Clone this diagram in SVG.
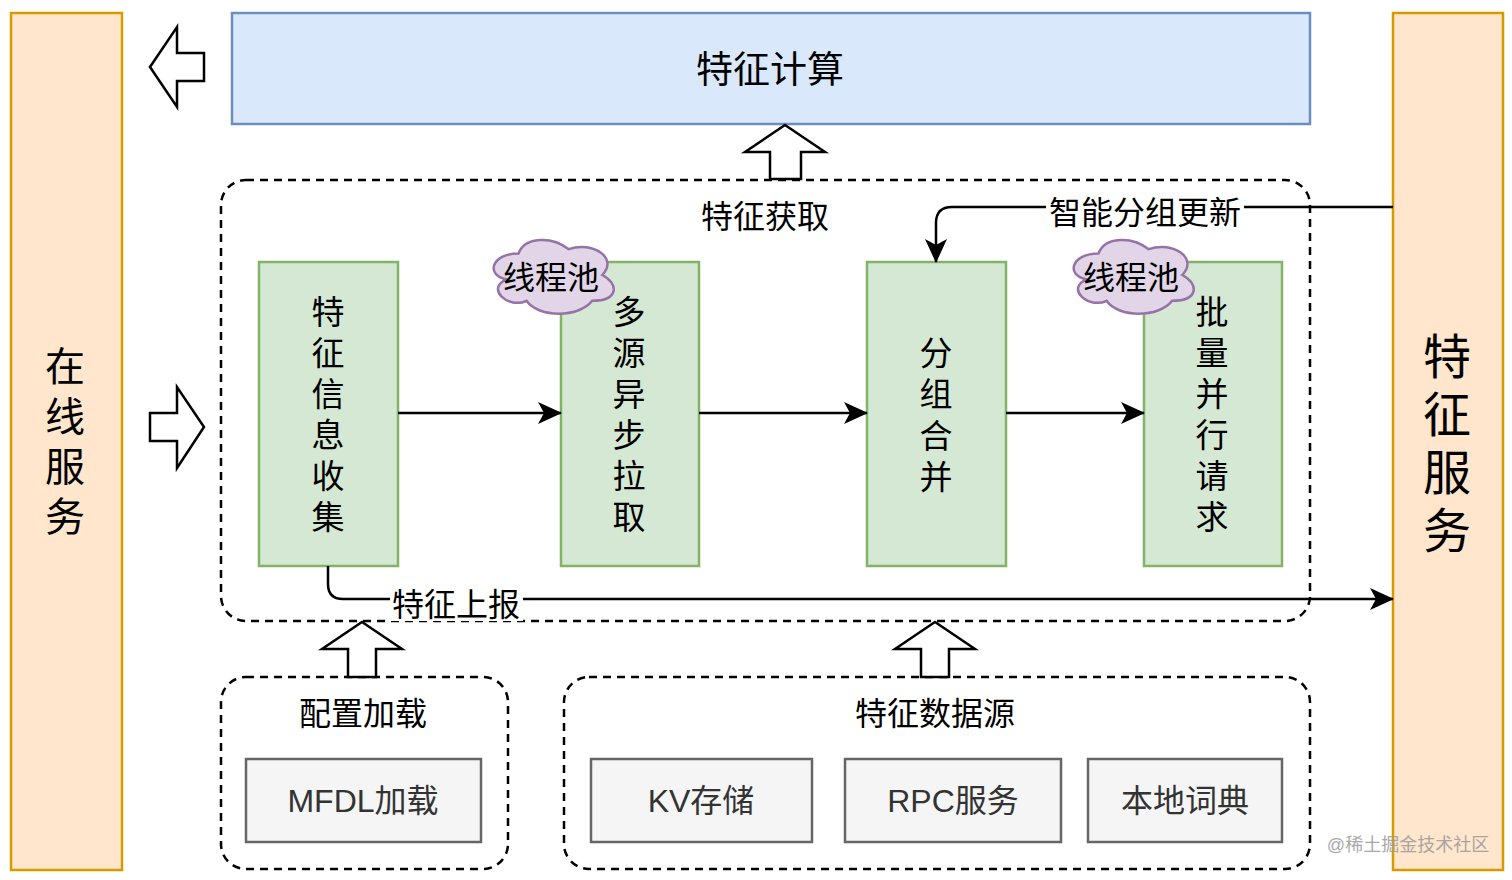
<svg xmlns="http://www.w3.org/2000/svg" width="1512" height="880" viewBox="0 0 1512 880">
  <style>
    text { font-family: "Liberation Sans", "Noto Sans CJK SC", sans-serif; fill: #000; text-anchor: middle; }
    .orange { fill: #ffe6cc; stroke: #d79b00; stroke-width: 2.5; }
    .blue { fill: #dae8fc; stroke: #6c8ebf; stroke-width: 2.5; }
    .green { fill: #d5e8d4; stroke: #82b366; stroke-width: 2.5; }
    .gray { fill: #f5f5f5; stroke: #666666; stroke-width: 2.5; }
    .gray-t { fill: #333333; font-size: 32px; }
    .dashed { fill: none; stroke: #000; stroke-width: 2.5; stroke-dasharray: 8 6; }
    .block { fill: #fff; stroke: #000; stroke-width: 2.5; stroke-linejoin: miter; }
    .cloud { fill: #e1d5e7; stroke: #9673a6; stroke-width: 2.5; }
    .edge { fill: none; stroke: #000; stroke-width: 2.5; }
    .f32 { font-size: 32px; }
    .v33 { font-size: 33px; }
  </style>
  <defs>
    <marker id="arr" markerUnits="userSpaceOnUse" markerWidth="24" markerHeight="22" viewBox="0 0 24 22" refX="23" refY="11" orient="auto">
      <path d="M0,0 L24,11 L0,22 L6,11 Z" fill="#000"/>
    </marker>
    <path id="cloudShape" d="M33.5,21.5 C6.7,21.5 0,43 21.4,47.3 C0,56.8 24.1,77.4 41.5,68.8 C53.6,86 93.8,86 107.2,68.8 C134,68.8 134,51.6 117.25,43 C134,25.8 107.2,8.6 83.75,17.2 C67,4.3 40.2,4.3 33.5,21.5 Z"/>
  </defs>
  <rect width="1512" height="880" fill="#fff"/>

  <g id="online-service">
    <rect class="orange" x="11" y="13" width="111" height="857"/>
    <text style="font-size:40px"><tspan x="65" y="381">在</tspan><tspan x="65" y="431">线</tspan><tspan x="65" y="481">服</tspan><tspan x="65" y="531">务</tspan></text>
  </g>

  <g id="feature-service">
    <rect class="orange" x="1393" y="13" width="110" height="857"/>
    <text style="font-size:48px"><tspan x="1447" y="374">特</tspan><tspan x="1447" y="432">征</tspan><tspan x="1447" y="490">服</tspan><tspan x="1447" y="548">务</tspan></text>
  </g>

  <g id="feature-compute">
    <rect class="blue" x="232" y="13" width="1078" height="111"/>
    <text x="770" y="83" style="font-size:37px">特征计算</text>
  </g>

  <g id="feature-fetch">
    <rect class="dashed" x="221" y="180" width="1089" height="441" rx="25" ry="25"/>
    <text class="f32" x="765" y="228">特征获取</text>
  </g>

  <g id="config-load">
    <rect class="dashed" x="221" y="677" width="287" height="192" rx="25" ry="25"/>
    <text class="f32" x="363" y="725">配置加载</text>
  </g>

  <g id="data-source">
    <rect class="dashed" x="564" y="677" width="746" height="192" rx="25" ry="25"/>
    <text class="f32" x="935" y="725">特征数据源</text>
  </g>

  <g id="mfdl">
    <rect class="gray" x="246" y="759" width="235" height="83"/>
    <text class="gray-t" x="363" y="812">MFDL加载</text>
  </g>
  <g id="kv">
    <rect class="gray" x="591" y="759" width="221" height="83"/>
    <text class="gray-t" x="701" y="812">KV存储</text>
  </g>
  <g id="rpc">
    <rect class="gray" x="845" y="759" width="216" height="83"/>
    <text class="gray-t" x="953" y="812">RPC服务</text>
  </g>
  <g id="dict">
    <rect class="gray" x="1088" y="759" width="194" height="83"/>
    <text class="gray-t" x="1185" y="812">本地词典</text>
  </g>

  <g id="collect">
    <rect class="green" x="259" y="262" width="139" height="304"/>
    <text class="v33"><tspan x="328" y="324">特</tspan><tspan x="328" y="365">征</tspan><tspan x="328" y="406">信</tspan><tspan x="328" y="447">息</tspan><tspan x="328" y="488">收</tspan><tspan x="328" y="529">集</tspan></text>
  </g>
  <g id="async-pull">
    <rect class="green" x="561" y="262" width="138" height="304"/>
    <text class="v33"><tspan x="629" y="324">多</tspan><tspan x="629" y="365">源</tspan><tspan x="629" y="406">异</tspan><tspan x="629" y="447">步</tspan><tspan x="629" y="488">拉</tspan><tspan x="629" y="529">取</tspan></text>
  </g>
  <g id="group-merge">
    <rect class="green" x="867" y="262" width="139" height="304"/>
    <text class="v33"><tspan x="936" y="365">分</tspan><tspan x="936" y="406">组</tspan><tspan x="936" y="448">合</tspan><tspan x="936" y="489">并</tspan></text>
  </g>
  <g id="batch-request">
    <rect class="green" x="1144" y="262" width="138" height="304"/>
    <text class="v33"><tspan x="1212" y="324">批</tspan><tspan x="1212" y="365">量</tspan><tspan x="1212" y="406">并</tspan><tspan x="1212" y="447">行</tspan><tspan x="1212" y="488">请</tspan><tspan x="1212" y="529">求</tspan></text>
  </g>

  <g id="threadpool-1">
    <use href="#cloudShape" class="cloud" transform="translate(485,232)"/>
    <text class="f32" x="551" y="289">线程池</text>
  </g>
  <g id="threadpool-2">
    <use href="#cloudShape" class="cloud" transform="translate(1065,232)"/>
    <text class="f32" x="1131" y="289">线程池</text>
  </g>

  <g id="block-arrows">
    <polygon class="block" points="150,67 177,27 177,53 204,53 204,81 177,81 177,107"/>
    <polygon class="block" points="150,413 177,413 177,387 204,427 177,468 177,441 150,441"/>
    <polygon class="block" points="785,125 825,152 801,152 801,179 770,179 770,152 745,152"/>
    <polygon class="block" points="362,622 402,649 376,649 376,677 348,677 348,649 322,649"/>
    <polygon class="block" points="935,622 975,649 949,649 949,677 921,677 921,649 895,649"/>
  </g>

  <g id="connectors">
    <line class="edge" x1="398" y1="413" x2="561" y2="413" marker-end="url(#arr)"/>
    <line class="edge" x1="699" y1="413" x2="867" y2="413" marker-end="url(#arr)"/>
    <line class="edge" x1="1006" y1="413" x2="1144" y2="413" marker-end="url(#arr)"/>
    <path class="edge" d="M1393,207 L952,207 Q936,207 936,223 L936,262" marker-end="url(#arr)"/>
    <rect x="1046" y="194" width="198" height="36" fill="#fff"/>
    <text class="f32" x="1145" y="224">智能分组更新</text>
    <path class="edge" d="M328,566 L328,584 Q328,599 343,599 L1393,599" marker-end="url(#arr)"/>
    <rect x="390" y="587" width="133" height="34" fill="#fff"/>
    <text class="f32" x="456" y="616">特征上报</text>
  </g>

  <text x="1408" y="851" style="font-size:18px; fill:#9a9a9a; opacity:0.85">@稀土掘金技术社区</text>
</svg>
